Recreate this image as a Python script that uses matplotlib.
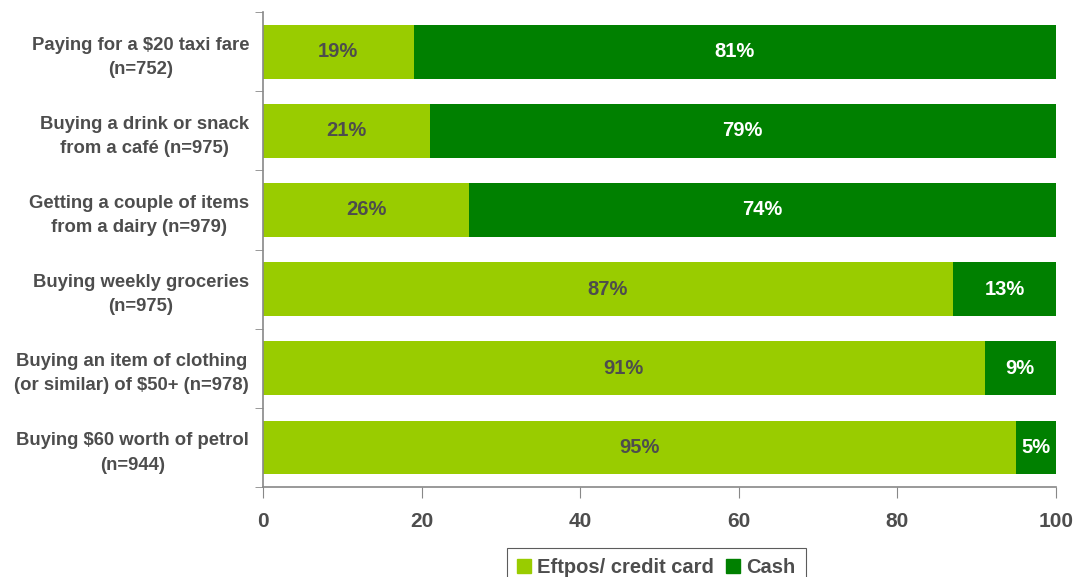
import numpy as np
import matplotlib
matplotlib.use("Agg")
import matplotlib.pyplot as plt
from matplotlib.patches import Patch

plt.rcParams['font.family'] = ['Liberation Sans', 'DejaVu Sans']
plt.rcParams['font.weight'] = 'bold'

categories = [
    "Paying for a $20 taxi fare\n(n=752)",
    "Buying a drink or snack\nfrom a café (n=975)",
    "Getting a couple of items\nfrom a dairy (n=979)",
    "Buying weekly groceries\n(n=975)",
    "Buying an item of clothing\n(or similar) of $50+ (n=978)",
    "Buying $60 worth of petrol\n(n=944)",
]
eftpos = [19, 21, 26, 87, 91, 95]
cash = [81, 79, 74, 13, 9, 5]

light = "#99cc00"
dark = "#008000"
txt = "#4d4d4d"
axis_col = "#888888"

fig = plt.figure(figsize=(10.76, 5.77), dpi=100)
ax = fig.add_axes([0.2444, 0.156, 0.737, 0.823])

y = np.arange(len(categories))
h = 0.68
ax.barh(y, eftpos, height=h, color=light, label="Eftpos/ credit card")
ax.barh(y, cash, left=eftpos, height=h, color=dark, label="Cash")

for yi, e, c in zip(y, eftpos, cash):
    ax.text(e / 2, yi, f"{e}%", ha="center", va="center", fontsize=14.5,
            color=txt, fontweight="bold")
    ax.text(e + c / 2, yi, f"{c}%", ha="center", va="center", fontsize=14.5,
            color="white", fontweight="bold")

ax.set_xlim(0, 100)
ax.set_ylim(len(categories) - 0.5, -0.5)
ax.set_xticks([0, 20, 40, 60, 80, 100])
ax.tick_params(axis="x", direction="out", length=8, color=axis_col,
               labelsize=15, labelcolor=txt, pad=10)

ax.set_yticks(y)
ax.set_yticklabels(categories, fontsize=13.3, color=txt, ha="right",
                   multialignment="center", linespacing=1.55)
ax.tick_params(axis="y", which="major", length=0, pad=10)
ax.set_yticks(np.arange(-0.5, len(categories), 1), minor=True)
ax.tick_params(axis="y", which="minor", direction="out", length=6,
               color=axis_col)

for s in ["top", "right"]:
    ax.spines[s].set_visible(False)
for s in ["left", "bottom"]:
    ax.spines[s].set_color(axis_col)
    ax.spines[s].set_linewidth(1.2)

handles = [Patch(color=light, label="Eftpos/ credit card"),
           Patch(color=dark, label="Cash")]
leg = fig.legend(handles=handles, loc="upper center",
                 bbox_to_anchor=(0.61, 0.051), borderaxespad=0, ncol=2,
                 frameon=True, fancybox=False, edgecolor="#333333",
                 fontsize=14.5, handlelength=0.7, handleheight=0.7,
                 handletextpad=0.3, columnspacing=0.6, borderpad=0.5)
for t in leg.get_texts():
    t.set_color(txt)
leg.get_frame().set_linewidth(0.8)

fig.savefig("out.png", dpi=100)
